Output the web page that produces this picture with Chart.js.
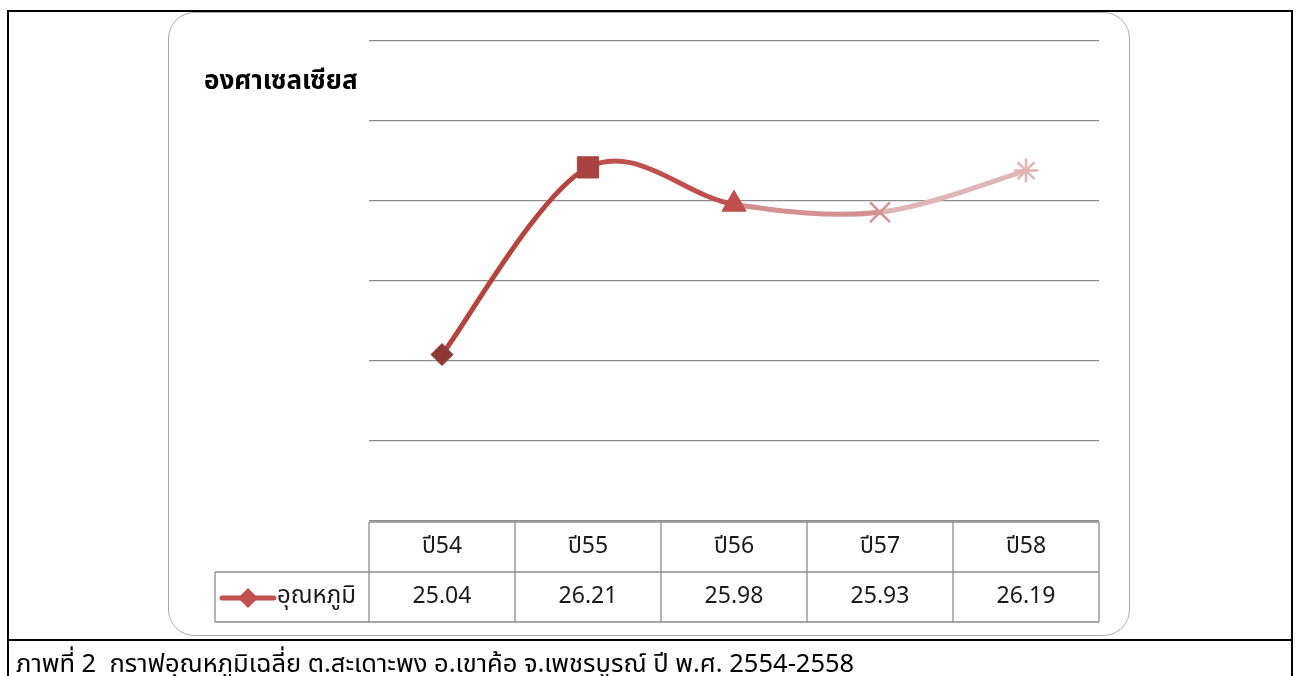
<!DOCTYPE html>
<html lang="th">
<head>
<meta charset="utf-8">
<title>กราฟอุณหภูมิเฉลี่ย</title>
<script src="https://cdn.jsdelivr.net/npm/chart.js@4.4.1/dist/chart.umd.min.js"></script>
<style>
  html, body { margin: 0; padding: 0; background: #ffffff; overflow: hidden; }
  #wrap { position: relative; width: 1299px; height: 676px; }
  canvas { display: block; }
</style>
</head>
<body>
<div id="wrap"><canvas id="chart" width="1299" height="676"></canvas></div>
<script>
// Average temperature, years 2554-2558 (B.E.)
const categories = ['ปี54', 'ปี55', 'ปี56', 'ปี57', 'ปี58'];
const temperatures = [25.04, 26.21, 25.98, 25.93, 26.19];
const seriesName = 'อุณหภูมิ';
const axisTitle = 'องศาเซลเซียส';
const captionText = 'ภาพที่ 2  กราฟอุณหภูมิเฉลี่ย ต.สะเดาะพง อ.เขาค้อ จ.เพชรบูรณ์ ปี พ.ศ. 2554-2558';
const yMin = 24;
const yMax = 27;
const yStep = 0.5;

// Marker look for each year, plus the colour of the line leaving each point
const pointStyles = ['rectRot', 'rect', 'triangle', 'crossRot', 'star'];
const pointRadii = [11, 15, 14, 14, 12];
const pointBorders = [1, 1, 1, 2.5, 2.5];
const pointColors = ['#8e3836', '#aa423f', '#c0504d', '#d48f8e', '#e2b5b4'];
const segmentColors = ['#b4443f', '#c0504d', '#d29190', '#e0b5b5'];

const FONT = '"Noto Sans Thai", "Noto Sans", "Leelawadee UI", sans-serif';
const GRID = '#8c8c8c';

function fmt(v) { return v.toFixed(2); }

// Uniform Catmull-Rom control points (one sixth of the neighbour chord),
// the classic spreadsheet "smoothed line" look.
const smoothLine = {
  id: 'smoothLine',
  beforeDatasetsDraw(chart) {
    chart.data.datasets.forEach((ds, di) => {
      const meta = chart.getDatasetMeta(di);
      if (meta.dataset && meta.dataset.updateControlPoints) {
        meta.dataset.updateControlPoints(chart.chartArea, 'x');
      }
      const pts = meta.data;
      for (let i = 0; i < pts.length; i++) {
        const p = pts[i];
        const prev = pts[i - 1] || p;
        const next = pts[i + 1] || p;
        const dx = (next.x - prev.x) / 6;
        const dy = (next.y - prev.y) / 6;
        p.cp1x = p.x - dx; p.cp1y = p.y - dy;
        p.cp2x = p.x + dx; p.cp2y = p.y + dy;
      }
    });
  }
};

// Frame, rounded panel, axis title, data table and caption
const decor = {
  id: 'decor',
  beforeDraw(chart) {
    const ctx = chart.ctx;
    ctx.save();
    ctx.fillStyle = '#ffffff';
    ctx.fillRect(0, 0, chart.width, chart.height);

    // rounded panel
    ctx.strokeStyle = '#a9a9a9';
    ctx.lineWidth = 1;
    ctx.beginPath();
    ctx.roundRect(168.5, 12.5, 961, 623, 26);
    ctx.stroke();

    // outer black table frame
    ctx.strokeStyle = '#000000';
    ctx.lineWidth = 2;
    ctx.beginPath();
    ctx.moveTo(8, 690); ctx.lineTo(8, 11); ctx.lineTo(1292, 11); ctx.lineTo(1292, 690);
    ctx.moveTo(8, 640); ctx.lineTo(1292, 640);
    ctx.stroke();

    // axis title
    ctx.fillStyle = '#000000';
    ctx.font = 'bold 26px ' + FONT;
    ctx.textBaseline = 'alphabetic';
    ctx.textAlign = 'left';
    ctx.fillText(axisTitle, 204, 89);
    ctx.restore();
  },
  afterDraw(chart) {
    const ctx = chart.ctx;
    const area = chart.chartArea;
    const x = chart.scales.x;
    const n = categories.length;
    const colW = area.width / n;
    const top = area.bottom + 1;
    const mid = top + 50;
    const bot = mid + 50;
    const legendLeft = 215;

    ctx.save();
    ctx.strokeStyle = GRID;
    ctx.lineWidth = 1.3;
    ctx.beginPath();
    // horizontal rules
    ctx.moveTo(area.left, top); ctx.lineTo(area.right, top);
    ctx.moveTo(legendLeft, mid); ctx.lineTo(area.right, mid);
    ctx.moveTo(legendLeft, bot); ctx.lineTo(area.right, bot);
    // vertical rules
    ctx.moveTo(legendLeft, mid); ctx.lineTo(legendLeft, bot);
    for (let i = 0; i <= n; i++) {
      const cx = area.left + i * colW;
      ctx.moveTo(cx, top); ctx.lineTo(cx, bot);
    }
    ctx.stroke();

    // header and value rows
    ctx.fillStyle = '#1a1a1a';
    ctx.font = '23px ' + FONT;
    ctx.textAlign = 'center';
    ctx.textBaseline = 'middle';
    for (let i = 0; i < n; i++) {
      const cx = x.getPixelForValue(i);
      ctx.fillText(categories[i], cx, (top + mid) / 2 + 1);
      ctx.fillText(fmt(temperatures[i]), cx, (mid + bot) / 2 + 1);
    }

    // legend key inside the table
    const ly = (mid + bot) / 2 + 1;
    ctx.strokeStyle = '#c0504d';
    ctx.lineWidth = 5;
    ctx.lineCap = 'round';
    ctx.beginPath();
    ctx.moveTo(222, ly); ctx.lineTo(274, ly);
    ctx.stroke();
    ctx.fillStyle = '#c0504d';
    ctx.beginPath();
    ctx.moveTo(248, ly - 10); ctx.lineTo(258, ly); ctx.lineTo(248, ly + 10); ctx.lineTo(238, ly);
    ctx.closePath();
    ctx.fill();
    ctx.fillStyle = '#1a1a1a';
    ctx.font = '24px ' + FONT;
    ctx.textAlign = 'left';
    ctx.fillText(seriesName, 277, ly);

    // caption under the frame
    ctx.fillStyle = '#000000';
    ctx.font = '25.5px ' + FONT;
    ctx.textAlign = 'left';
    ctx.textBaseline = 'alphabetic';
    ctx.fillText(captionText, 16, 672);
    ctx.restore();
  }
};

new Chart(document.getElementById('chart'), {
  type: 'line',
  data: {
    labels: categories,
    datasets: [{
      label: seriesName,
      data: temperatures,
      borderWidth: 5,
      borderColor: segmentColors[0],
      tension: 0.4,
      fill: false,
      segment: {
        borderColor: c => segmentColors[c.p0DataIndex]
      },
      pointStyle: pointStyles,
      pointRadius: pointRadii,
      pointHoverRadius: pointRadii,
      pointBackgroundColor: pointColors,
      pointBorderColor: pointColors,
      pointBorderWidth: pointBorders
    }]
  },
  options: {
    responsive: false,
    animation: false,
    devicePixelRatio: 1,
    layout: { padding: { left: 369, right: 200, top: 41, bottom: 155 } },
    plugins: {
      legend: { display: false },
      tooltip: { enabled: false },
      title: { display: false }
    },
    scales: {
      x: {
        type: 'category',
        display: false,
        offset: true
      },
      y: {
        min: yMin,
        max: yMax,
        ticks: { display: false, stepSize: yStep },
        border: { display: false },
        grid: { color: GRID, lineWidth: 1.3, drawTicks: false }
      }
    }
  },
  plugins: [smoothLine, decor]
});
</script>
</body>
</html>
